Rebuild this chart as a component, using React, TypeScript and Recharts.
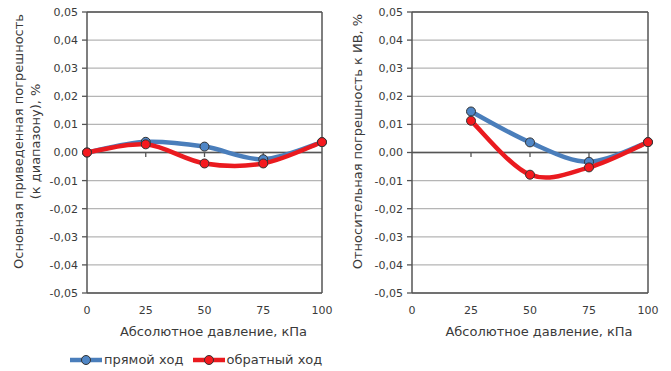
import React from 'react';
import {
  LineChart, Line, XAxis, YAxis, CartesianGrid, ReferenceLine, Legend,
} from 'recharts';

const xTicks = [0, 25, 50, 75, 100];
const yTicks = [-0.05, -0.04, -0.03, -0.02, -0.01, 0, 0.01, 0.02, 0.03, 0.04, 0.05];
const innerTicks = [25, 50, 75];

const pressureLeft = [0, 25, 50, 75, 100];
const forwardLeft = [0, 0.0038, 0.0021, -0.0024, 0.0037];
const reverseLeft = [0, 0.0029, -0.0039, -0.0039, 0.0037];

const pressureRight = [25, 50, 75, 100];
const forwardRight = [0.0146, 0.0036, -0.0033, 0.0037];
const reverseRight = [0.0113, -0.0079, -0.0053, 0.0037];

const seriesNames = ['прямой ход', 'обратный ход'];
const xTitle = 'Абсолютное давление, кПа';
const leftTitle = ['Основная приведенная погрешность', '(к диапазону), %'];
const rightTitle = 'Относительная погрешность к ИВ, %';

const BLUE = '#4a7ebb';
const BLUE_DOT = '#4f86c6';
const RED = '#ea1a1f';
const RED_DOT = '#f5191e';
const FONT = '"DejaVu Sans", sans-serif';
const AXIS = '#555555';
const TEXT = '#3a3a3a';

const build = (xs: number[], a: number[], b: number[]) =>
  xs.map((x, i) => ({ x, fwd: a[i], rev: b[i] }));

const leftData = build(pressureLeft, forwardLeft, reverseLeft);
const rightData = build(pressureRight, forwardRight, reverseRight);

// Excel-like smoothed line (Catmull-Rom as cubic Bezier)
const smoothCurve = (context: any) => {
  let pts: number[][] = [];
  return {
    areaStart() {},
    areaEnd() {},
    lineStart() { pts = []; },
    point(x: number, y: number) { pts.push([+x, +y]); },
    lineEnd() {
      if (!pts.length) return;
      context.moveTo(pts[0][0], pts[0][1]);
      for (let i = 0; i < pts.length - 1; i++) {
        const p0 = pts[i - 1] || pts[i];
        const p1 = pts[i];
        const p2 = pts[i + 1];
        const p3 = pts[i + 2] || pts[i + 1];
        const c1x = p1[0] + (p2[0] - p0[0]) / 6;
        const c1y = p1[1] + (p2[1] - p0[1]) / 6;
        const c2x = p2[0] - (p3[0] - p1[0]) / 6;
        const c2y = p2[1] - (p3[1] - p1[1]) / 6;
        context.bezierCurveTo(c1x, c1y, c2x, c2y, p2[0], p2[1]);
      }
    },
  };
};

const fmt = (v: number) => {
  const r = Math.round(v * 100) / 100;
  const s = Math.abs(r).toFixed(2).replace('.', ',');
  return r < 0 ? '-' + s : s;
};

const dot = (fill: string) => ({ r: 4.5, fill, stroke: '#333', strokeWidth: 1 });

const LegendContent = () => (
  <div style={{ height: 30, width: 330, paddingTop: 8, boxSizing: 'border-box', paddingLeft: 70, display: 'flex', alignItems: 'center', fontFamily: FONT, fontSize: 13, color: TEXT, lineHeight: '20px', whiteSpace: 'nowrap' }}>
    {[BLUE, RED].map((c, i) => (
      <div key={i} style={{ display: 'flex', alignItems: 'center', flexShrink: 0, marginRight: i === 0 ? 9 : 0 }}>
        <svg width={32} height={12} style={{ marginRight: 2, flexShrink: 0 }}>
          <line x1={0} y1={6} x2={32} y2={6} stroke={c} strokeWidth={4.5} />
          <circle cx={16} cy={6} r={4.5} fill={i === 0 ? BLUE_DOT : RED_DOT} stroke="#333" strokeWidth={1} />
        </svg>
        <span style={{ whiteSpace: 'nowrap' }}>{seriesNames[i]}</span>
      </div>
    ))}
  </div>
);

type PanelProps = {
  data: any[];
  width: number;
  yAxisWidth: number;
  marginRight: number;
  marginBottom: number;
  legend: boolean;
  yLabel: (vb: any) => React.ReactNode;
};

const Panel = ({ data, width, yAxisWidth, marginRight, marginBottom, legend, yLabel }: PanelProps) => (
  <LineChart width={width} height={371} data={data} margin={{ top: 12, right: marginRight, bottom: marginBottom, left: 0 }}>
    <CartesianGrid horizontal vertical={false} stroke="#b5b5b5" strokeWidth={1.3} />
    <XAxis
      dataKey="x"
      type="number"
      domain={[0, 100]}
      ticks={xTicks}
      interval={0}
      height={48}
      axisLine={{ stroke: AXIS, strokeWidth: 1.5 }}
      tickLine={false}
      tickSize={0}
      tickMargin={13}
      tick={{ fill: TEXT, fontSize: 11, fontFamily: FONT }}
      label={{ value: xTitle, position: 'insideBottom', offset: 5, dx: 9, fill: TEXT, fontSize: 13, fontFamily: FONT }}
    />
    <YAxis
      type="number"
      domain={[-0.05, 0.05]}
      ticks={yTicks}
      interval={0}
      width={yAxisWidth}
      tickFormatter={fmt}
      axisLine={{ stroke: AXIS, strokeWidth: 1.5 }}
      tickLine={{ stroke: AXIS, strokeWidth: 1.3 }}
      tickSize={5}
      tickMargin={4}
      tick={{ fill: TEXT, fontSize: 11, fontFamily: FONT }}
      label={{ content: (p: any) => yLabel(p.viewBox) }}
    />
    <ReferenceLine y={0.05} stroke={AXIS} strokeWidth={1.5} />
    <ReferenceLine x={100} stroke={AXIS} strokeWidth={1.5} />
    <ReferenceLine y={0} stroke={AXIS} strokeWidth={1.5} />
    {innerTicks.map((t) => (
      <ReferenceLine key={t} segment={[{ x: t, y: 0 }, { x: t, y: -0.0016 }]} stroke={AXIS} strokeWidth={1.3} />
    ))}
    <Line dataKey="fwd" name={seriesNames[0]} type={smoothCurve as any} stroke={BLUE} strokeWidth={4.5} dot={dot(BLUE_DOT)} activeDot={false} isAnimationActive={false} />
    <Line dataKey="rev" name={seriesNames[1]} type={smoothCurve as any} stroke={RED} strokeWidth={4.5} dot={dot(RED_DOT)} activeDot={false} isAnimationActive={false} />
    {legend && <Legend verticalAlign="bottom" align="left" wrapperStyle={{ width: 335 }} content={() => <LegendContent />} />}
  </LineChart>
);

const leftLabel = (vb: any) => {
  const cy = vb.y + vb.height / 2 - 11;
  return (
    <g>
      {leftTitle.map((t, i) => (
        <text key={i} x={i === 0 ? 18 : 35} y={cy} transform={`rotate(-90 ${i === 0 ? 18 : 35} ${cy})`} textAnchor="middle" dominantBaseline="central" fill={TEXT} fontSize={13} fontFamily={FONT}>
          {t}
        </text>
      ))}
    </g>
  );
};

const rightLabel = (vb: any) => {
  const cy = vb.y + vb.height / 2 - 11;
  return (
    <text x={22} y={cy} transform={`rotate(-90 22 ${cy})`} textAnchor="middle" dominantBaseline="central" fill={TEXT} fontSize={13} fontFamily={FONT}>
      {rightTitle}
    </text>
  );
};

export default function App() {
  return (
    <div style={{ position: 'absolute', left: 0, top: 0, width: 671, height: 371, background: '#fff', display: 'flex' }}>
      <Panel data={leftData} width={335} yAxisWidth={87} marginRight={13} marginBottom={0} legend yLabel={leftLabel} />
      <Panel data={rightData} width={336} yAxisWidth={77} marginRight={23} marginBottom={30} legend={false} yLabel={rightLabel} />
    </div>
  );
}
